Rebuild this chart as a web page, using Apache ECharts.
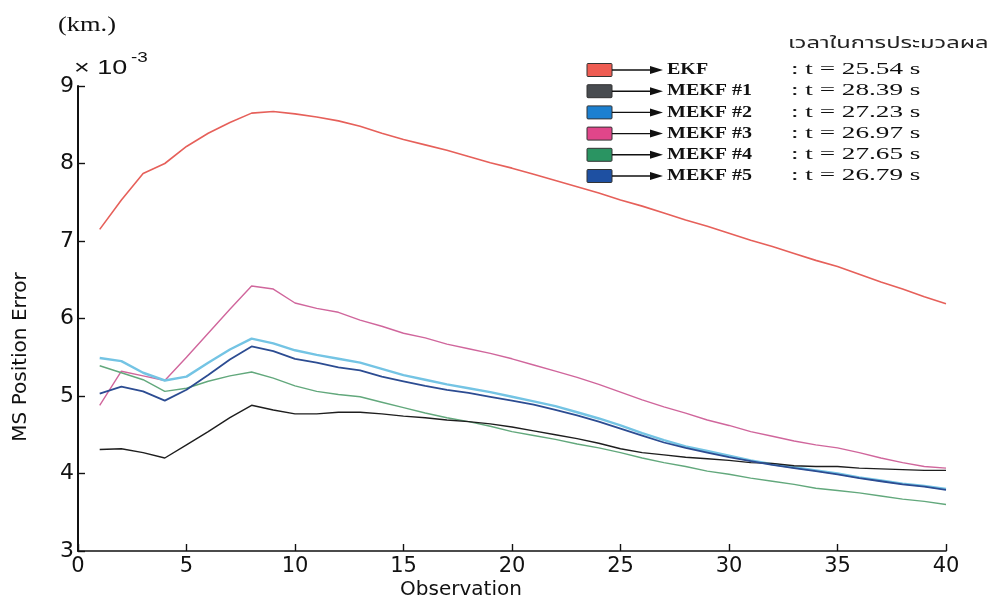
<!DOCTYPE html>
<html>
<head>
<meta charset="utf-8">
<script src="https://cdn.jsdelivr.net/npm/echarts@6/dist/echarts.min.js"></script>
<style>
  html, body { margin: 0; padding: 0; background: #ffffff; }
  #chart { width: 1000px; height: 607px; }
</style>
</head>
<body>
<div id="chart"></div>
<script>
// Observation index (x axis)
const observation = [1,2,3,4,5,6,7,8,9,10,11,12,13,14,15,16,17,18,19,20,
                     21,22,23,24,25,26,27,28,29,30,31,32,33,34,35,36,37,38,39,40];

// MS position error, in units of 1e-3 km
const ekf   = [7.15,7.53,7.87,8.00,8.22,8.39,8.53,8.65,8.67,8.64,8.60,8.55,8.48,8.39,8.31,8.24,8.17,8.09,8.01,7.94,
               7.86,7.78,7.70,7.62,7.53,7.45,7.36,7.27,7.19,7.10,7.01,6.93,6.84,6.75,6.67,6.57,6.47,6.38,6.28,6.19];
const mekf1 = [4.31,4.32,4.27,4.20,4.37,4.54,4.72,4.88,4.82,4.77,4.77,4.79,4.79,4.77,4.74,4.72,4.69,4.67,4.64,4.60,
               4.55,4.50,4.45,4.39,4.32,4.27,4.24,4.21,4.19,4.17,4.14,4.13,4.10,4.09,4.09,4.07,4.06,4.05,4.04,4.04];
const mekf2 = [5.49,5.45,5.30,5.20,5.25,5.43,5.60,5.74,5.68,5.59,5.53,5.48,5.43,5.35,5.27,5.21,5.15,5.10,5.05,4.99,
               4.93,4.87,4.79,4.71,4.62,4.52,4.43,4.35,4.29,4.23,4.17,4.12,4.08,4.04,4.00,3.95,3.91,3.87,3.84,3.80];
const mekf3 = [4.88,5.32,5.26,5.20,5.50,5.81,6.12,6.42,6.38,6.20,6.13,6.08,5.98,5.90,5.81,5.75,5.67,5.61,5.55,5.48,
               5.40,5.32,5.24,5.15,5.05,4.95,4.86,4.78,4.69,4.62,4.54,4.48,4.42,4.37,4.33,4.27,4.20,4.14,4.09,4.07];
const mekf4 = [5.39,5.30,5.21,5.06,5.10,5.19,5.26,5.31,5.23,5.13,5.06,5.02,4.99,4.92,4.85,4.78,4.72,4.67,4.61,4.54,
               4.49,4.44,4.38,4.33,4.27,4.20,4.14,4.09,4.03,3.99,3.94,3.90,3.86,3.81,3.78,3.75,3.71,3.67,3.64,3.60];
const mekf5 = [5.03,5.12,5.06,4.94,5.08,5.27,5.47,5.64,5.58,5.48,5.43,5.37,5.33,5.25,5.19,5.13,5.08,5.04,4.99,4.94,
               4.89,4.82,4.75,4.67,4.58,4.49,4.40,4.33,4.27,4.21,4.16,4.11,4.07,4.03,3.99,3.94,3.90,3.86,3.83,3.79];

// Legend entries: name and processing time
const seriesNames = ['EKF', 'MEKF #1', 'MEKF #2', 'MEKF #3', 'MEKF #4', 'MEKF #5'];
const procTimes   = ['25.54', '28.39', '27.23', '26.97', '27.65', '26.79'];
const timeHeader  = 'เวลาในการประมวลผล';

// Axis ticks and titles
const xTicks = { min: 0, max: 40, interval: 5 };
const yTicks = { min: 3, max: 9, interval: 1 };
const xTitle = 'Observation';
const yTitle = 'MS Position Error';
const unitText = '(km.)';

const lineColors = ['#e6605a', '#1e1e1e', '#74c4e4', '#d0669c', '#62a87c', '#2c4c92'];
const lineWidths = [1.6, 1.4, 2.4, 1.4, 1.4, 1.8];
const boxColors  = ['#ee5c52', '#484c50', '#1c80d0', '#e0468a', '#2a9462', '#1e50a2'];

const allSeries = [ekf, mekf1, mekf2, mekf3, mekf4, mekf5];
// draw order: light blue under dark blue
const drawOrder = [0, 3, 2, 4, 1, 5];

const chart = echarts.init(document.getElementById('chart'), null, { renderer: 'canvas' });

const series = drawOrder.map((i, k) => ({
  name: seriesNames[i],
  type: 'line',
  data: observation.map((x, j) => [x, allSeries[i][j]]),
  showSymbol: false,
  lineStyle: { color: lineColors[i], width: lineWidths[i] },
  itemStyle: { color: lineColors[i] },
  z: 2 + k
}));

const serif = '"Liberation Serif", "Times New Roman", serif';
const sans = '"DejaVu Sans", sans-serif';
const arial = '"Liberation Sans", Arial, sans-serif';

// Legend block drawn as graphics: colour box, arrow, name, time
const legendGraphics = [];
const rowY0 = 70, rowStep = 21.2;
legendGraphics.push({
  type: 'text', x: 788, y: 45, scaleX: 1.48,
  style: { text: timeHeader, x: 0, y: 0, font: '16px "Noto Sans Thai", "Noto Sans", "DejaVu Sans", sans-serif',
           fill: '#222', textVerticalAlign: 'middle' }
});
seriesNames.forEach((name, i) => {
  const cy = rowY0 + i * rowStep;
  legendGraphics.push({
    type: 'rect', shape: { x: 587, y: cy - 6.5, width: 25, height: 13, r: 1 },
    style: { fill: boxColors[i], stroke: '#333', lineWidth: 1 }
  });
  legendGraphics.push({
    type: 'line', shape: { x1: 612, y1: cy, x2: 654, y2: cy },
    style: { stroke: '#111', lineWidth: 1.4 }
  });
  legendGraphics.push({
    type: 'polygon', shape: { points: [[650, cy - 4], [663, cy], [650, cy + 4]] },
    style: { fill: '#111' }
  });
  legendGraphics.push({
    type: 'text', x: 667, y: cy, scaleX: 1.25,
    style: { text: name, x: 0, y: 0, font: 'bold 16px ' + serif, fill: '#111', textVerticalAlign: 'middle' }
  });
  legendGraphics.push({
    type: 'text', x: 791, y: cy, scaleX: 1.7,
    style: { text: ': t = ' + procTimes[i] + ' s', x: 0, y: 0, font: '16px ' + serif, fill: '#111', textVerticalAlign: 'middle' }
  });
});

const option = {
  backgroundColor: '#ffffff',
  animation: false,
  grid: { left: 78, right: 54, top: 86, bottom: 56, containLabel: false },
  xAxis: {
    type: 'value', min: xTicks.min, max: xTicks.max, interval: xTicks.interval,
    axisLine: { show: true, lineStyle: { color: '#111', width: 1.6 } },
    axisTick: { show: true, inside: true, length: 7, lineStyle: { color: '#111', width: 1.4 } },
    axisLabel: { fontFamily: sans, fontSize: 21, color: '#111', margin: 5 },
    splitLine: { show: false }
  },
  yAxis: {
    type: 'value', min: yTicks.min, max: yTicks.max, interval: yTicks.interval,
    axisLine: { show: true, lineStyle: { color: '#111', width: 2 } },
    axisTick: { show: true, inside: true, length: 7, lineStyle: { color: '#111', width: 1.4 } },
    axisLabel: { fontFamily: sans, fontSize: 22, color: '#111', margin: 4 },
    splitLine: { show: false }
  },
  graphic: [
    {
      type: 'text', x: 461, y: 590,
      style: { text: xTitle, x: 0, y: 0, font: '20px ' + sans, fill: '#111', textAlign: 'center', textVerticalAlign: 'middle' }
    },
    {
      type: 'text', x: 21, y: 357, rotation: Math.PI / 2,
      style: { text: yTitle, x: 0, y: 0, font: '20px ' + sans, fill: '#111', textAlign: 'center', textVerticalAlign: 'middle' }
    },
    {
      type: 'text', x: 58, y: 25, scaleX: 1.2,
      style: { text: unitText, x: 0, y: 0, font: '22px ' + serif, fill: '#111', textVerticalAlign: 'middle' }
    },
    {
      type: 'text', x: 74, y: 68, scaleX: 1.35,
      style: { text: '× 10', x: 0, y: 0, font: '20px ' + arial, fill: '#111', textVerticalAlign: 'middle' }
    },
    {
      type: 'text', x: 131, y: 58, scaleX: 1.35,
      style: { text: '-3', x: 0, y: 0, font: '14px ' + arial, fill: '#111', textVerticalAlign: 'middle' }
    },
    ...legendGraphics
  ],
  series: series
};

chart.setOption(option);
</script>
</body>
</html>
